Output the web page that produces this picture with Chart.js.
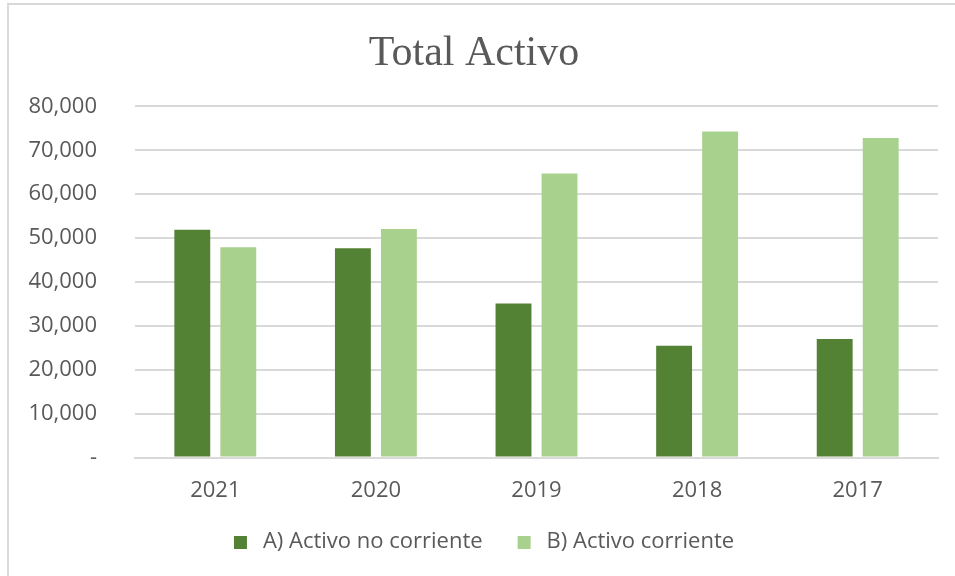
<!DOCTYPE html>
<html>
<head>
<meta charset="utf-8">
<script src="https://cdn.jsdelivr.net/npm/chart.js@4/dist/chart.umd.min.js"></script>
<style>
  html, body { margin: 0; padding: 0; background: #fff; }
  #wrap { width: 955px; height: 576px; position: relative; }
</style>
</head>
<body>
<div id="wrap"><canvas id="graph" width="955" height="576"></canvas></div>
<script>
const years = ['2021', '2020', '2019', '2018', '2017']
const noCorriente = [51900, 47700, 35100, 25500, 27000]
const corriente = [47900, 52100, 64700, 74300, 72800]
const yTicks = [0, 10000, 20000, 30000, 40000, 50000, 60000, 70000, 80000]

const seriesColors = ['#548235', '#a9d18e']
const labelFont = { family: "'Open Sans', 'Noto Sans', sans-serif", size: 22 }

// legend marker: blank on the left, square, small blank on the right
// so the items sit as far apart as in the picture
function legendSquare(color) {
    let c = document.createElement('canvas')
    c.width = 38
    c.height = 13
    let g = c.getContext('2d')
    g.fillStyle = color
    g.fillRect(20, 0, 13, 13)
    return c
}

// light grey frame, only left and top edges show in the picture
const frame = {
    id: 'frame',
    beforeDraw(chart) {
        let ctx = chart.ctx
        ctx.save()
        ctx.strokeStyle = '#d9d9d9'
        ctx.lineWidth = 2
        ctx.beginPath()
        ctx.moveTo(8, 576)
        ctx.lineTo(8, 4)
        ctx.lineTo(955, 4)
        ctx.stroke()
        ctx.restore()
    }
}

new Chart(document.getElementById('graph').getContext('2d'), {
    type: 'bar',
    data: {
        labels: years,
        datasets: [
            {
                label: 'A) Activo no corriente',
                data: noCorriente,
                backgroundColor: seriesColors[0],
                pointStyle: legendSquare(seriesColors[0])
            },
            {
                label: 'B) Activo corriente',
                data: corriente,
                backgroundColor: seriesColors[1],
                pointStyle: legendSquare(seriesColors[1])
            }
        ]
    },
    options: {
        responsive: false,
        animation: false,
        categoryPercentage: 0.573,
        barPercentage: 0.78,
        layout: { padding: { left: 10, right: 17, top: 10, bottom: 13 } },
        plugins: {
            title: {
                display: true,
                text: 'Total Activo',
                color: '#595959',
                font: { family: "'Liberation Serif', 'Times New Roman', serif", size: 42, weight: 'normal' },
                padding: { top: 19, bottom: 27 }
            },
            legend: {
                position: 'bottom',
                labels: {
                    color: '#595959',
                    font: labelFont,
                    usePointStyle: true,
                    pointStyleWidth: 38,
                    boxHeight: 13,
                    padding: 15
                }
            },
            tooltip: { enabled: false }
        },
        scales: {
            x: {
                grid: { display: false },
                border: { color: '#d9d9d9', width: 2 },
                ticks: { color: '#595959', font: labelFont, padding: 12 }
            },
            y: {
                min: 0,
                max: 80000,
                afterBuildTicks(axis) {
                    axis.ticks = yTicks.map(v => ({ value: v }))
                },
                afterFit(axis) { axis.width = 125 },
                grid: { color: '#d9d9d9', lineWidth: 2, drawTicks: false },
                border: { display: false },
                ticks: {
                    color: '#595959',
                    font: labelFont,
                    padding: 38,
                    callback: v => v === 0 ? '-' : v.toLocaleString('en-US')
                }
            }
        }
    },
    plugins: [frame]
})
</script>
</body>
</html>
